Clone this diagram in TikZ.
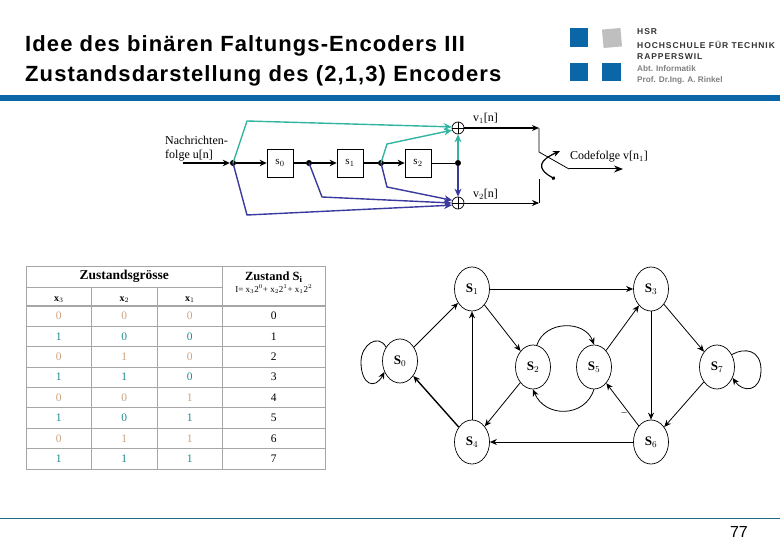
\documentclass[tikz,border=0pt]{standalone}
\usepackage{fontspec}
\setmainfont{Liberation Serif}
\setsansfont{Liberation Sans}
\newfontfamily\logofont[LetterSpace=11]{Liberation Sans}
\newfontfamily\titlefont[LetterSpace=5]{Liberation Sans}
\usepackage{xcolor}
\usetikzlibrary{arrows.meta,positioning,calc,shapes.geometric}
\definecolor{hsrblue}{HTML}{0A66A6}
\definecolor{footline}{HTML}{1F6A80}
\definecolor{codeteal}{HTML}{2FB5A0}
\definecolor{codeblue}{HTML}{3A3A9E}
\definecolor{zerotan}{HTML}{C9A27E}
\definecolor{oneteal}{HTML}{1F8A90}

\begin{document}
\begin{tikzpicture}[
  x=1pt, y=-1pt,
  arrow/.style={-{Stealth[length=7pt,width=6pt]}, line width=0.8pt},
  thickarrow/.style={-{Stealth[length=7pt,width=6.5pt]}, line width=1.6pt},
  tealarrow/.style={-{Stealth[length=8pt,width=7pt]}, codeteal, line width=1.4pt},
  bluearrow/.style={-{Stealth[length=8pt,width=7pt]}, codeblue, line width=1.4pt},
  regbox/.style={draw, line width=0.7pt, minimum width=26pt, minimum height=28pt, inner sep=0pt, font=\fontsize{11}{11}\selectfont},
  dotnode/.style={circle, fill=black, minimum size=6pt, inner sep=0pt},
  addnode/.style={draw, line width=0.7pt, circle, minimum size=12pt, inner sep=0pt},
  lbl/.style={font=\fontsize{12}{14}\selectfont, align=left, inner sep=0pt},
  state/.style={draw, line width=0.7pt, ellipse, minimum width=35pt, minimum height=44pt, inner sep=0pt, font=\bfseries\fontsize{13}{13}\selectfont},
  cell/.style={draw=gray!70, line width=0.9pt, minimum height=20.4pt, inner sep=0pt, font=\fontsize{11.5}{11.5}\selectfont},
  bitcell/.style={cell, minimum width=65.6pt},
  headcell/.style={bitcell, minimum height=19pt, text height=10pt, text depth=0pt, font=\fontsize{10}{10}\selectfont\bfseries},
  sicell/.style={cell, minimum width=102.5pt},
  zero/.style={bitcell, text=zerotan},
  one/.style={bitcell, text=oneteal},
  logosq/.style={fill=hsrblue, minimum size=18.5pt, inner sep=0pt},
  logotxt/.style={anchor=west, inner sep=0pt, font=\logofont\bfseries\fontsize{8.5}{8.5}\selectfont, text=black!80},
  logogray/.style={anchor=west, inner sep=0pt, font=\sffamily\bfseries\fontsize{8.2}{8.2}\selectfont, text=gray},
  titletxt/.style={anchor=west, inner sep=0pt, font=\titlefont\bfseries\fontsize{22}{22}\selectfont},
]
\useasboundingbox (0,0) rectangle (780,540);

% Header
\node[titletxt] (title1) at (25,46) {Idee des binären Faltungs-Encoders III};
\node[titletxt] (title2) at (25,76) {Zustandsdarstellung des (2,1,3) Encoders};
\fill[hsrblue] (0,95) rectangle (780,101);
\draw[footline, line width=0.9pt] (0,518) -- (780,518);
\node[anchor=east, inner sep=0pt, font=\sffamily\fontsize{16}{16}\selectfont] (pagenr) at (748,532) {77};

% Logo
\node[logosq] (sqa) at (579,37.5) {};
\node[logosq, fill=gray!50, rotate=5] (sqb) at (612,38) {};
\node[logosq] (sqc) at (579,72) {};
\node[logosq] (sqd) at (611.5,72) {};
\node[logotxt] (hsr) at (637,32) {HSR};
\node[logotxt] (hoch) at (637,44.5) {HOCHSCHULE FÜR TECHNIK};
\node[logotxt] (rapp) at (637,57) {RAPPERSWIL};
\node[logogray] (abt) at (637,69) {Abt. Informatik};
\node[logogray] (prof) at (637,80.5) {Prof. Dr.Ing. A. Rinkel};

% Encoder
\coordinate (in) at (183,163);
\node[dotnode] (d0) at (233,163) {};
\node[regbox] (s0) at (280,163) {s$_0$};
\node[dotnode] (d1) at (309,163) {};
\node[regbox] (s1) at (350,163) {s$_1$};
\node[dotnode] (d2) at (381,163) {};
\node[regbox] (s2) at (418,163) {s$_2$};
\node[dotnode] (d3) at (458,163) {};
\node[addnode] (add1) at (458,128) {};
\node[addnode] (add2) at (458,203) {};
\draw[line width=0.7pt] (add1.north) -- (add1.south) (add1.west) -- (add1.east);
\draw[line width=0.7pt] (add2.north) -- (add2.south) (add2.west) -- (add2.east);

\draw[thickarrow] (in) -- (d0);
\draw[thickarrow] (d0) -- (s0);
\draw[line width=1.6pt] (s0) -- (d1);
\draw[thickarrow] (d1) -- (s1);
\draw[line width=1.6pt] (s1) -- (d2);
\draw[thickarrow] (d2) -- (s2);
\draw[line width=0.8pt] (s2) -- (d3);

% Generators
\coordinate (t1) at (247,121);
\coordinate (t2) at (387,144);
\coordinate (b1) at (247,215);
\coordinate (b2) at (322,197);
\coordinate (b3) at (387,187);
\draw[tealarrow] (d0.center) -- (t1) -- (add1.170);
\draw[tealarrow] (d2.center) -- (t2) -- (add1.200);
\draw[tealarrow, line width=1.8pt] (d3) -- (add1);
\draw[bluearrow] (d0.center) -- (b1) -- (add2.200);
\draw[bluearrow] (d1.center) -- (b2) -- (add2.180);
\draw[bluearrow] (d2.center) -- (b3) -- (add2.155);
\draw[bluearrow, line width=1.8pt] (d3) -- (add2);

% Switch
\coordinate (k1) at (539,128);
\coordinate (k2) at (539,152);
\coordinate (k3) at (539,203);
\coordinate (k4) at (539,179);
\coordinate (k5) at (569,169);
\coordinate (out) at (623,169);
\coordinate (sw1) at (560,151);
\coordinate (sw2) at (555,179);
\draw[line width=1.4pt, -{Stealth[length=7pt,width=6pt]}] (add1) -- (k1);
\draw[line width=0.8pt] (k1) -- (k2) -- (k5);
\draw[line width=0.8pt, -{Stealth[length=7pt,width=6pt]}] (add2) -- (k3);
\draw[line width=0.8pt] (k3) -- (k4);
\draw[line width=1pt, -{Stealth[length=9pt,width=7pt]}] (k5) -- (out);
\draw[line width=1.2pt, {Circle[length=3.5pt]}-{Stealth[length=7pt,width=6pt]}] (sw2) .. controls (535,168) and (540,160) .. (sw1);

\node[lbl, anchor=north west] (msg) at (165,136) {Nachrichten-\\folge u[n]};
\node[lbl, anchor=west] (v1) at (473,118) {v$_1$[n]};
\node[lbl, anchor=west] (v2) at (473,194) {v$_2$[n]};
\node[lbl, anchor=west] (code) at (570,157) {Codefolge v[n$_1$]};

% Table
\node[cell, minimum width=196.6pt, minimum height=21pt, font=\fontsize{13.5}{13.5}\selectfont\bfseries] (zg) at (124.3,276.5) {Zustandsgrösse};
\node[cell, minimum width=102.5pt, minimum height=40pt] (si) at (273.8,286) {};
\node[inner sep=0pt, font=\fontsize{12.5}{12.5}\selectfont\bfseries] (sihead) at (273.8,277) {Zustand S$_\mathbf{i}$};
\node[inner sep=0pt, font=\fontsize{9}{9}\selectfont] (siform) at (273.8,289) {I= x$_3$2$^0$+ x$_2$2$^1$+ x$_1$2$^2$};
\node[headcell] (hx3) at (58.8,296.5) {x$_3$};
\node[headcell] (hx2) at (124.3,296.5) {x$_2$};
\node[headcell] (hx1) at (189.8,296.5) {x$_1$};

\node[zero] (xa0) at (58.8,316) {0};
\node[zero] (xb0) at (124.3,316) {0};
\node[zero] (xc0) at (189.8,316) {0};
\node[sicell] (si0) at (273.8,316) {0};
\node[one] (xa1) at (58.8,336.4) {1};
\node[one] (xb1) at (124.3,336.4) {0};
\node[one] (xc1) at (189.8,336.4) {0};
\node[sicell] (si1) at (273.8,336.4) {1};
\node[zero] (xa2) at (58.8,356.8) {0};
\node[zero] (xb2) at (124.3,356.8) {1};
\node[zero] (xc2) at (189.8,356.8) {0};
\node[sicell] (si2) at (273.8,356.8) {2};
\node[one] (xa3) at (58.8,377.2) {1};
\node[one] (xb3) at (124.3,377.2) {1};
\node[one] (xc3) at (189.8,377.2) {0};
\node[sicell] (si3) at (273.8,377.2) {3};
\node[zero] (xa4) at (58.8,397.6) {0};
\node[zero] (xb4) at (124.3,397.6) {0};
\node[zero] (xc4) at (189.8,397.6) {1};
\node[sicell] (si4) at (273.8,397.6) {4};
\node[one] (xa5) at (58.8,418) {1};
\node[one] (xb5) at (124.3,418) {0};
\node[one] (xc5) at (189.8,418) {1};
\node[sicell] (si5) at (273.8,418) {5};
\node[zero] (xa6) at (58.8,438.4) {0};
\node[zero] (xb6) at (124.3,438.4) {1};
\node[zero] (xc6) at (189.8,438.4) {1};
\node[sicell] (si6) at (273.8,438.4) {6};
\node[one] (xa7) at (58.8,458.8) {1};
\node[one] (xb7) at (124.3,458.8) {1};
\node[one] (xc7) at (189.8,458.8) {1};
\node[sicell] (si7) at (273.8,458.8) {7};

% States
\node[state] (S0) at (400,361) {S$_0$};
\node[state] (S1) at (472,289) {S$_1$};
\node[state] (S3) at (651,289) {S$_3$};
\node[state] (S2) at (533,367) {S$_2$};
\node[state] (S5) at (594,367) {S$_5$};
\node[state] (S7) at (717,367) {S$_7$};
\node[state] (S4) at (472,442) {S$_4$};
\node[state] (S6) at (651,442) {S$_6$};

% Transitions
\draw[arrow] (S0) -- (S1);
\draw[arrow] (S1) -- (S3);
\draw[arrow] (S1) -- (S2);
\draw[arrow] (S2) -- (S4);
\draw[arrow] (S4) -- (S1);
\draw[arrow, line width=1.4pt] (S4) -- (S0);
\draw[arrow] (S5) -- (S3);
\draw[arrow] (S6) -- (S5);
\draw[arrow] (S3) -- (S6);
\draw[arrow] (S3) -- (S7);
\draw[arrow] (S7) -- (S6);
\draw[arrow] (S6) -- (S4);
\draw[arrow] (S2.80) .. controls (545,320) and (585,320) .. (S5.90);
\draw[arrow] (S5.-90) .. controls (585,418) and (545,418) .. (S2.-90);
\draw[arrow] (S0.135) .. controls (378,333) and (361,345) .. (361,362) .. controls (361,385) and (375,390) .. (S0.215);
\draw[arrow] (S7.40) .. controls (745,347) and (761,350) .. (761,370) .. controls (761,392) and (743,393) .. (S7.-35);
\node[inner sep=0pt, font=\fontsize{10}{10}\selectfont] (dash) at (624,414) {--};

\end{tikzpicture}
\end{document}
